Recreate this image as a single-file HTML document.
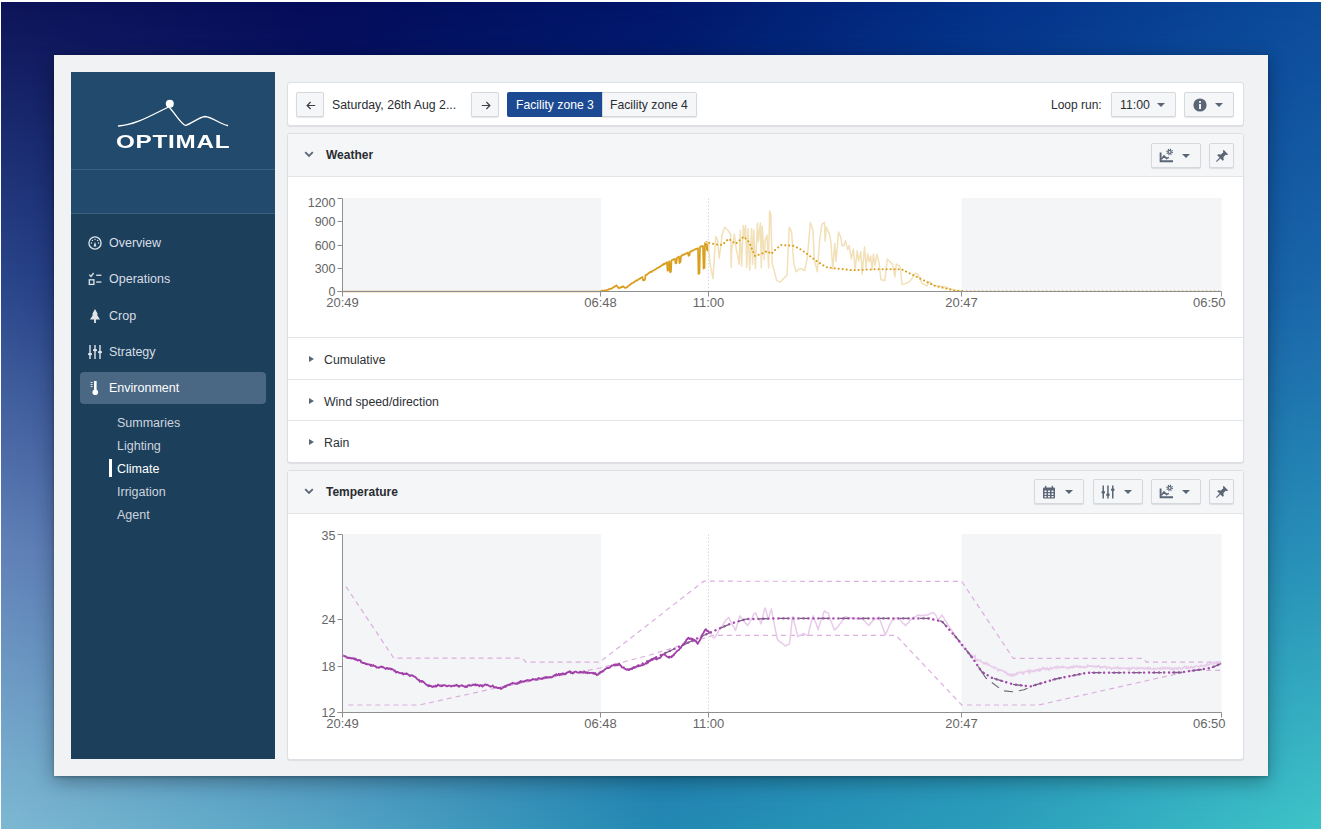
<!DOCTYPE html>
<html><head><meta charset="utf-8">
<style>
*{box-sizing:border-box;margin:0;padding:0}
html,body{width:1326px;height:834px;overflow:hidden;background:#fff;font-family:"Liberation Sans",sans-serif}
.abs{position:absolute}
#bg{position:absolute;left:1px;top:2px;width:1320px;height:827px;overflow:hidden}
#bg div{position:absolute;left:0;top:0;width:1320px;height:827px}
#bg .r0{background:linear-gradient(90deg,#0e1458 0px,#040c5a 330px,#00166a 660px,#033289 990px,#0c4c9c 1320px)}
#bg .r1{background:linear-gradient(90deg,#2a468a 0px,#0c2070 330px,#0a3080 660px,#0e4a98 990px,#1a66aa 1320px);-webkit-mask-image:linear-gradient(180deg,transparent 0px,#000 280px)}
#bg .r2{background:linear-gradient(90deg,#6282b8 0px,#3a5fa0 330px,#2060a0 660px,#2080b0 990px,#2890b8 1320px);-webkit-mask-image:linear-gradient(180deg,transparent 280px,#000 550px)}
#bg .r3{background:linear-gradient(90deg,#7db8d2 0px,#55a5c5 330px,#2289b2 660px,#2b9dbb 990px,#3fc4c8 1320px);-webkit-mask-image:linear-gradient(180deg,transparent 550px,#000 827px)}
#card{position:absolute;left:54px;top:55px;width:1214px;height:721px;background:#f1f2f4;box-shadow:0 5px 18px rgba(0,0,0,.33),0 1px 3px rgba(0,0,0,.25);}
#side{position:absolute;left:71px;top:72px;width:204px;height:687px;background:#1c3f5c}
#side .logo{position:absolute;left:0;top:0;width:204px;height:98px;background:#214a6c;border-bottom:1px solid #3d607f}
#side .blank{position:absolute;left:0;top:98px;width:204px;height:44px;background:#214a6c;border-bottom:1px solid #3d607f}
.nav{position:absolute;left:0;width:204px;height:20px;color:#d8dee4;font-size:12.5px;line-height:20px}
.nav .ic{position:absolute;left:17px;top:3px;width:14px;height:14px}
.nav .t{position:absolute;left:38px;top:0}
.sub{position:absolute;left:46px;color:#cdd5dc;font-size:12.5px;line-height:16px}
.panel{position:absolute;left:287px;width:957px;background:#fff;border:1px solid #dcdfe3;border-radius:3px;box-shadow:0 1px 1px rgba(0,0,0,.08)}
.btn{position:absolute;height:25px;border:1px solid #d5d8dc;border-radius:2px;background:#f5f6f8;box-shadow:0 1px 1px rgba(0,0,0,.1)}
.hdr{position:absolute;left:0;top:0;width:955px;height:43px;background:#f5f6f8;border-bottom:1px solid #e3e5e8}
.htitle{position:absolute;left:38px;top:14px;font-size:12px;font-weight:bold;color:#282c31}
.row{position:absolute;left:0;width:955px;height:42px;border-top:1px solid #e3e5e8}
.row .t{position:absolute;left:36px;top:15px;font-size:12.3px;color:#2d3136}
.caret{position:absolute;width:0;height:0;border-left:4px solid transparent;border-right:4px solid transparent;border-top:4.5px solid #5a6676}
.ax{font-family:"Liberation Sans",sans-serif;font-size:12px;fill:#666}
</style></head><body>
<div id="bg"><div class="r0"></div><div class="r1"></div><div class="r2"></div><div class="r3"></div></div>
<div id="card"></div>
<div id="side">
  <div class="logo">
    <svg class="abs" style="left:0;top:0" width="204" height="98" viewBox="71 72 204 98">
      <path d="M118.5 126 C135 125 150 116 167.5 107.5 M168.5 106.5 C175 113 180 123 185.5 125.5 C193 123 199 117 205 116.5 C212 117 220 124 227.5 125.5" fill="none" stroke="#fff" stroke-width="1.3" stroke-linecap="round"/>
      <circle cx="169.8" cy="103.8" r="4" fill="#fff"/>
    </svg>
    <div class="abs" style="left:45px;top:61px;width:112px;height:18px;color:#fff;font-weight:bold;font-size:19px;line-height:18px;letter-spacing:0.6px;transform:scaleX(1.275);transform-origin:0 0;white-space:nowrap">OPTIMAL</div>
  </div>
  <div class="blank"></div>
  <div class="nav" style="top:161px"><svg class="ic" viewBox="0 0 14 14"><circle cx="7" cy="7" r="6.1" fill="none" stroke="#e0e6ec" stroke-width="1.3"/><path d="M5.6 10.6 L7 5.8 L8.4 10.6 Z" fill="#e0e6ec"/><circle cx="7" cy="3.4" r=".7" fill="#e0e6ec"/><circle cx="4.4" cy="4.4" r=".7" fill="#e0e6ec"/><circle cx="9.6" cy="4.4" r=".7" fill="#e0e6ec"/><circle cx="3.4" cy="7" r=".7" fill="#e0e6ec"/><circle cx="10.6" cy="7" r=".7" fill="#e0e6ec"/></svg><span class="t">Overview</span></div>
  <div class="nav" style="top:197px"><svg class="ic" viewBox="0 0 14 14"><path d="M1.3 2.6 L3 4.4 L5.6 1" fill="none" stroke="#e0e6ec" stroke-width="1.3"/><rect x="1.3" y="7.8" width="4.6" height="4.6" fill="none" stroke="#e0e6ec" stroke-width="1.3"/><rect x="8.2" y="2.6" width="5.2" height="1.3" fill="#e0e6ec"/><rect x="8.2" y="9.4" width="5.2" height="1.3" fill="#e0e6ec"/></svg><span class="t">Operations</span></div>
  <div class="nav" style="top:234px"><svg class="ic" viewBox="0 0 14 14"><path d="M7 0 L10 5.5 L8.8 5.5 L12 10.5 L7.9 10.5 L7.9 14 L6.1 14 L6.1 10.5 L2 10.5 L5.2 5.5 L4 5.5 Z" fill="#e0e6ec"/></svg><span class="t">Crop</span></div>
  <div class="nav" style="top:270px"><svg class="ic" viewBox="0 0 14 14"><g fill="#e0e6ec"><rect x="1.3" y="0" width="1.4" height="14"/><rect x="6.3" y="0" width="1.4" height="14"/><rect x="11.3" y="0" width="1.4" height="14"/><rect x="0" y="8" width="4" height="2.2" rx="1"/><rect x="5" y="4" width="4" height="2.2" rx="1"/><rect x="10" y="6" width="4" height="2.2" rx="1"/></g></svg><span class="t">Strategy</span></div>
  <div class="abs" style="left:9px;top:300px;width:186px;height:32px;background:#4a6784;border-radius:4px"></div>
  <div class="nav" style="top:306px;color:#fff"><svg class="ic" viewBox="0 0 14 14"><g fill="#fff"><rect x="6" y="0" width="2.6" height="10"/><circle cx="7.3" cy="11.2" r="2.8"/><rect x="2.6" y="1" width="2" height=".8"/><rect x="2.6" y="3" width="2" height=".8"/><rect x="2.6" y="5" width="2" height=".8"/></g></svg><span class="t">Environment</span></div>
  <div class="sub" style="top:343px">Summaries</div>
  <div class="sub" style="top:366px">Lighting</div>
  <div class="abs" style="left:38px;top:387px;width:2.5px;height:18px;background:#fff"></div>
  <div class="sub" style="top:389px;color:#fff">Climate</div>
  <div class="sub" style="top:412px">Irrigation</div>
  <div class="sub" style="top:435px">Agent</div>
</div>
<!-- top bar -->
<div class="panel" style="top:82px;height:44px">
  <div class="btn" style="left:8px;top:9px;width:28px"><svg class="abs" style="left:8.5px;top:7.5px" width="10" height="9" viewBox="0 0 10 9"><path d="M9.2 4.5 H1.2 M4.6 1 L1.1 4.5 L4.6 8" fill="none" stroke="#3a3f45" stroke-width="1.15"/></svg></div>
  <div class="abs" style="left:44px;top:15px;font-size:12.3px;color:#2a2e33;white-space:nowrap">Saturday, 26th Aug 2...</div>
  <div class="btn" style="left:183px;top:9px;width:28px"><svg class="abs" style="left:8.5px;top:7.5px" width="10" height="9" viewBox="0 0 10 9"><path d="M0.8 4.5 H8.8 M5.4 1 L8.9 4.5 L5.4 8" fill="none" stroke="#3a3f45" stroke-width="1.15"/></svg></div>
  <div class="abs" style="left:219px;top:9px;width:96px;height:25px;background:#1b4a93;border-radius:2px 0 0 2px"></div>
  <div class="abs" style="left:228px;top:15px;font-size:12.2px;color:#fff;white-space:nowrap">Facility zone 3</div>
  <div class="btn" style="left:314px;top:9px;width:95px;border-radius:0 2px 2px 0"></div>
  <div class="abs" style="left:322px;top:15px;font-size:12.2px;color:#2a2e33;white-space:nowrap">Facility zone 4</div>
  <div class="abs" style="left:763px;top:15px;font-size:12px;color:#2a2e33;white-space:nowrap">Loop run:</div>
  <div class="btn" style="left:823px;top:9px;width:65px"><span class="abs" style="left:8px;top:5px;font-size:12.3px;color:#2a2e33">11:00</span><div class="caret" style="left:44.5px;top:10px"></div></div>
  <div class="btn" style="left:896px;top:9px;width:50px"><svg class="abs" style="left:8px;top:5px" width="14" height="14" viewBox="0 0 14 14"><circle cx="7" cy="7" r="6.6" fill="#5a6676"/><rect x="6.1" y="6" width="1.9" height="5" fill="#fff"/><circle cx="7" cy="4" r="1.1" fill="#fff"/></svg><div class="caret" style="left:30px;top:10px"></div></div>
</div>
<!-- weather -->
<div class="panel" style="top:133px;height:330px">
  <div class="hdr">
    <svg class="abs" style="left:16px;top:17px" width="10" height="7" viewBox="0 0 10 7"><path d="M1.2 1.2 L5 5 L8.8 1.2" fill="none" stroke="#5a6676" stroke-width="1.8"/></svg>
    <div class="htitle">Weather</div>
    <div class="btn" style="left:863px;top:9px;width:50px"><svg class="abs" style="left:6.5px;top:3.8px" width="15" height="15" viewBox="0 0 15 15"><g fill="none" stroke="#5a6676"><path d="M1.6 4.5 V13.2 H14" stroke-width="1.9"/><path d="M2.4 11.2 L5 8 L7.6 10.6 L9.8 9.4" stroke-width="1.6"/><circle cx="10.6" cy="3.9" r="2.5" stroke-width="1.7" stroke-dasharray="1 0.96"/><circle cx="10.6" cy="3.9" r="1.5" stroke-width="1.2"/></g></svg><div class="caret" style="left:30px;top:10px"></div></div>
    <div class="btn" style="left:921px;top:9px;width:25px"><svg class="abs" style="left:5px;top:5px" width="14" height="14" viewBox="0 0 14 14"><path d="M8.6 0.8 L13.2 5.4 L12 6 L10.6 5.8 L8.4 8.2 L8.8 10.9 L7.7 11.8 L5.4 9.4 L2 12.8 L1.2 12.8 L1.2 12 L4.6 8.6 L2.2 6.3 L3.1 5.2 L5.8 5.6 L8.2 3.4 L8 2 Z" fill="#5a6676"/></svg></div>
  </div>
  <div class="row" style="top:203px"><div class="caret" style="left:21px;top:18px;border-top:3.5px solid transparent;border-bottom:3.5px solid transparent;border-left:5px solid #5a6676;border-right:0"></div><div class="t">Cumulative</div></div>
  <div class="row" style="top:245px"><div class="caret" style="left:21px;top:18px;border-top:3.5px solid transparent;border-bottom:3.5px solid transparent;border-left:5px solid #5a6676;border-right:0"></div><div class="t">Wind speed/direction</div></div>
  <div class="row" style="top:286px"><div class="caret" style="left:21px;top:18px;border-top:3.5px solid transparent;border-bottom:3.5px solid transparent;border-left:5px solid #5a6676;border-right:0"></div><div class="t">Rain</div></div>
</div>
<!-- temperature -->
<div class="panel" style="top:470px;height:290px">
  <div class="hdr">
    <svg class="abs" style="left:16px;top:17px" width="10" height="7" viewBox="0 0 10 7"><path d="M1.2 1.2 L5 5 L8.8 1.2" fill="none" stroke="#5a6676" stroke-width="1.8"/></svg>
    <div class="htitle">Temperature</div>
    <div class="btn" style="left:746px;top:8px;width:50px"><svg class="abs" style="left:6.5px;top:5px" width="14" height="14" viewBox="0 0 14 14"><g fill="#5a6676"><rect x="1" y="2.5" width="12" height="11" rx="1"/></g><g fill="#f5f6f8"><rect x="2.5" y="5.5" width="2" height="1.6"/><rect x="6" y="5.5" width="2" height="1.6"/><rect x="9.5" y="5.5" width="2" height="1.6"/><rect x="2.5" y="8.3" width="2" height="1.6"/><rect x="6" y="8.3" width="2" height="1.6"/><rect x="9.5" y="8.3" width="2" height="1.6"/><rect x="2.5" y="11" width="2" height="1.4"/><rect x="6" y="11" width="2" height="1.4"/><rect x="9.5" y="11" width="2" height="1.4"/></g><g fill="#5a6676"><rect x="3" y="0.8" width="1.3" height="2.5"/><rect x="9.7" y="0.8" width="1.3" height="2.5"/></g></svg><div class="caret" style="left:30px;top:10px"></div></div>
    <div class="btn" style="left:805px;top:8px;width:50px"><svg class="abs" style="left:7px;top:5px" width="14" height="14" viewBox="0 0 14 14"><g fill="#5a6676"><rect x="1.5" y="0.5" width="1.5" height="13"/><rect x="6.2" y="0.5" width="1.5" height="13"/><rect x="11" y="0.5" width="1.5" height="13"/><rect x="0.5" y="6" width="3.5" height="2.4" rx="1"/><rect x="5.2" y="8.5" width="3.5" height="2.4" rx="1"/><rect x="10" y="3.5" width="3.5" height="2.4" rx="1"/></g></svg><div class="caret" style="left:30px;top:10px"></div></div>
    <div class="btn" style="left:863px;top:8px;width:50px"><svg class="abs" style="left:6.5px;top:3.8px" width="15" height="15" viewBox="0 0 15 15"><g fill="none" stroke="#5a6676"><path d="M1.6 4.5 V13.2 H14" stroke-width="1.9"/><path d="M2.4 11.2 L5 8 L7.6 10.6 L9.8 9.4" stroke-width="1.6"/><circle cx="10.6" cy="3.9" r="2.5" stroke-width="1.7" stroke-dasharray="1 0.96"/><circle cx="10.6" cy="3.9" r="1.5" stroke-width="1.2"/></g></svg><div class="caret" style="left:30px;top:10px"></div></div>
    <div class="btn" style="left:921px;top:8px;width:25px"><svg class="abs" style="left:5px;top:5px" width="14" height="14" viewBox="0 0 14 14"><path d="M8.6 0.8 L13.2 5.4 L12 6 L10.6 5.8 L8.4 8.2 L8.8 10.9 L7.7 11.8 L5.4 9.4 L2 12.8 L1.2 12.8 L1.2 12 L4.6 8.6 L2.2 6.3 L3.1 5.2 L5.8 5.6 L8.2 3.4 L8 2 Z" fill="#5a6676"/></svg></div>
  </div>
</div>
<!--CHARTS--><svg id="charts" class="abs" style="left:0;top:0" width="1326" height="834" viewBox="0 0 1326 834"><rect x="343.0" y="198.0" width="258.0" height="93.0" fill="#f4f5f7"/><rect x="961.5" y="198.0" width="260.0" height="93.0" fill="#f4f5f7"/><line x1="708.5" y1="198.5" x2="708.5" y2="291.5" stroke="#c9ced6" stroke-width="1" stroke-dasharray="1.2 2.2"/><line x1="342.5" y1="291.5" x2="600.5" y2="291.5" stroke="#cda457" stroke-width="1.3"/><path d="M600.5 291.0 L601.0 291.0 L601.5 290.8 L602.0 290.6 L602.5 290.7 L603.0 290.5 L603.5 290.7 L604.0 291.0 L604.5 290.5 L605.0 290.4 L605.5 290.6 L606.0 290.4 L606.5 290.2 L607.0 289.8 L607.5 289.9 L608.0 290.0 L608.5 289.3 L609.0 289.4 L609.5 288.9 L610.0 288.9 L610.5 288.7 L611.0 288.9 L611.5 288.4 L612.0 288.4 L612.5 288.1 L613.0 287.7 L613.5 286.8 L614.0 287.0 L614.5 286.8 L615.0 286.6 L615.5 285.8 L616.0 285.8 L616.5 285.4 L617.0 285.9 L617.5 286.9 L618.0 287.0 L618.5 287.7 L619.0 288.4 L619.5 287.8 L620.0 287.7 L620.5 287.6 L621.0 287.4 L621.5 286.8 L622.0 286.9 L622.5 287.1 L623.0 286.1 L623.5 287.0 L624.0 287.0 L624.5 287.1 L625.0 288.0 L625.5 287.9 L626.0 287.7 L626.5 287.6 L627.0 287.3 L627.5 286.6 L628.0 286.4 L628.5 285.8 L629.0 285.5 L629.5 285.3 L630.0 284.3 L630.5 284.3 L631.0 283.8 L631.5 283.6 L632.0 283.0 L632.5 282.9 L633.0 282.7 L633.5 282.6 L634.0 282.4 L634.5 281.5 L635.0 281.3 L635.5 281.4 L636.0 280.4 L636.5 280.5 L637.0 280.3 L637.5 280.3 L638.0 279.9 L638.5 279.3 L639.0 279.0 L639.5 278.7 L640.0 278.9 L640.5 278.1 L641.0 277.8 L641.5 277.7 L642.0 277.3 L642.5 277.0 L643.0 280.4 L643.5 280.4 L644.0 280.0 L644.5 280.1 L645.0 279.7 L645.5 275.2 L646.0 275.1 L646.5 274.5 L647.0 274.6 L647.5 274.0 L648.0 273.9 L648.5 273.1 L649.0 273.2 L649.5 272.4 L650.0 272.0 L650.5 272.2 L651.0 271.7 L651.5 271.7 L652.0 271.9 L652.5 270.9 L653.0 270.6 L653.5 270.5 L654.0 270.3 L654.5 269.8 L655.0 269.5 L655.5 269.5 L656.0 269.1 L656.5 268.4 L657.0 268.4 L657.5 268.1 L658.0 267.6 L658.5 267.6 L659.0 267.0 L659.5 267.2 L660.0 266.7 L660.5 266.4 L661.0 265.9 L661.5 265.7 L662.0 265.0 L662.5 264.9 L663.0 265.0 L663.5 264.0 L664.0 264.5 L664.5 263.5 L665.0 263.9 L665.5 263.2 L666.0 263.3 L666.5 262.8 L667.0 262.1 L667.5 270.6 L668.0 270.4 L668.5 269.8 L669.0 261.5 L669.5 261.3 L670.0 271.9 L670.5 272.1 L671.0 271.5 L671.5 260.4 L672.0 260.0 L672.5 259.8 L673.0 259.4 L673.5 259.8 L674.0 259.2 L674.5 259.3 L675.0 258.8 L675.5 263.4 L676.0 263.2 L676.5 262.9 L677.0 257.9 L677.5 257.5 L678.0 257.3 L678.5 256.8 L679.0 256.7 L679.5 263.1 L680.0 262.3 L680.5 262.0 L681.0 256.1 L681.5 256.1 L682.0 255.2 L682.5 255.3 L683.0 254.9 L683.5 254.4 L684.0 254.8 L684.5 254.4 L685.0 254.2 L685.5 253.7 L686.0 253.8 L686.5 253.3 L687.0 253.2 L687.5 252.7 L688.0 252.4 L688.5 255.9 L689.0 255.2 L689.5 255.1 L690.0 251.8 L690.5 251.5 L691.0 251.2 L691.5 251.3 L692.0 250.8 L692.5 250.6 L693.0 250.4 L693.5 250.5 L694.0 250.1 L694.5 249.8 L695.0 249.4 L695.5 248.9 L696.0 249.2 L696.5 249.0 L697.0 248.5 L697.5 248.4 L698.0 248.2 L698.5 274.0 L699.0 273.7 L699.5 273.1 L700.0 247.4 L700.5 246.4 L701.0 246.7 L701.5 246.4 L702.0 246.2 L702.5 246.2 L703.0 245.9 L703.5 268.6 L704.0 267.9 L704.5 268.0 L705.0 242.9 L705.5 242.6 L706.0 242.2 L706.5 241.8 L707.0 249.8 L707.5 250.6 L708.0 250.7 L708.5 242.8" fill="none" stroke="#d89e1c" stroke-width="1.7" stroke-linejoin="round"/><path d="M705.0 242.1 L708.4 243.3 L710.1 263.8 L713.0 278.6 L715.8 236.4 L717.5 239.9 L719.2 258.1 L720.9 245.6 L722.1 234.2 L724.9 227.3 L727.8 230.2 L730.6 234.2 L731.2 267.2 L731.8 248.0 L733.4 241.9 L734.3 234.0 L736.3 249.2 L738.1 258.3 L739.1 264.4 L740.2 230.6 L741.6 266.1 L743.3 225.6 L744.3 237.2 L745.6 225.4 L746.7 267.7 L748.1 228.7 L749.7 270.3 L751.6 228.4 L752.6 264.3 L753.8 230.0 L755.4 268.7 L757.5 223.1 L758.4 241.6 L760.4 223.1 L761.3 267.8 L762.3 226.4 L764.2 259.6 L765.2 240.4 L767.0 235.1 L768.6 268.0 L769.6 211.0 L770.8 214.0 L771.5 240.0 L772.2 263.8 L773.3 267.2 L776.8 280.9 L780.2 282.0 L784.7 277.4 L787.0 275.2 L789.3 227.3 L791.6 231.9 L793.8 263.8 L796.1 271.8 L800.0 268.3 L804.6 270.5 L807.2 259.0 L810.4 222.4 L813.0 230.8 L814.2 259.0 L817.4 271.8 L819.4 242.3 L821.9 224.4 L824.5 222.4 L825.1 241.0 L826.4 226.9 L829.6 234.6 L830.9 242.3 L832.8 269.2 L834.7 243.6 L836.0 261.5 L838.6 232.0 L841.2 238.5 L842.0 245.8 L843.7 246.1 L845.5 240.8 L847.6 249.7 L849.3 245.5 L851.3 258.9 L853.4 249.1 L855.1 269.6 L857.2 250.8 L858.6 261.2 L860.8 251.7 L862.2 274.3 L864.5 246.7 L866.0 267.6 L867.7 253.8 L869.2 261.8 L870.7 256.0 L872.1 269.9 L873.4 254.1 L875.0 265.7 L876.8 254.3 L879.1 262.9 L880.9 279.5 L884.7 280.8 L887.3 259.0 L892.4 264.1 L895.0 276.9 L896.3 264.1 L900.1 266.7 L902.1 284.6 L906.5 283.3 L910.4 280.8 L915.5 273.1 L918.1 274.4 L921.9 283.3 L927.1 285.9 L929.0 281.4 L932.2 284.6 L936.0 285.9 L943.7 286.5 L948.8 288.5 L956.5 290.4 L961.7 291.0" fill="none" stroke="#f2e1b8" stroke-width="1.5" stroke-linejoin="round"/><path d="M962.7 291 L1221.5 291" fill="none" stroke="#d4a84a" stroke-width="1.4" stroke-dasharray="0.1 3.9" stroke-linecap="round"/><path d="M709.2 242.8 L716.0 244.5 L722.4 244.9 L728.5 238.8 L735.6 243.8 L743.8 236.7 L749.0 242.0 L755.0 256.0 L761.0 254.0 L767.2 251.0 L771.3 254.0 L776.0 249.0 L781.4 244.9 L793.7 245.9 L800.0 249.0 L805.9 253.0 L815.0 260.0 L826.2 267.2 L852.7 270.3 L873.0 269.3 L901.6 269.3 L915.8 276.4 L934.2 285.6 L954.5 290.6 L962.7 291.0" fill="none" stroke="#d89e1c" stroke-width="2" stroke-dasharray="0.1 3.9" stroke-linecap="round"/><path d="M337.5 198.5 H342.5 V291.5 H337.5" fill="none" stroke="#8f8f8f" stroke-width="1"/><line x1="337.5" y1="221.5" x2="342.5" y2="221.5" stroke="#8f8f8f" stroke-width="1"/><line x1="337.5" y1="245.5" x2="342.5" y2="245.5" stroke="#8f8f8f" stroke-width="1"/><line x1="337.5" y1="268.5" x2="342.5" y2="268.5" stroke="#8f8f8f" stroke-width="1"/><line x1="337.5" y1="291.5" x2="342.5" y2="291.5" stroke="#8f8f8f" stroke-width="1"/><text x="335.5" y="226.1" text-anchor="end" class="ax" style="font-size:12.5px">900</text><text x="335.5" y="250.1" text-anchor="end" class="ax" style="font-size:12.5px">600</text><text x="335.5" y="273.1" text-anchor="end" class="ax" style="font-size:12.5px">300</text><text x="335.5" y="296.1" text-anchor="end" class="ax" style="font-size:12.5px">0</text><text x="335.5" y="206.6" text-anchor="end" class="ax" style="font-size:12.5px">1200</text><path d="M342.5 296.5 V291.5 H1221.5 V296.5" fill="none" stroke="#8f8f8f" stroke-width="1"/><line x1="600.5" y1="291.5" x2="600.5" y2="296.5" stroke="#8f8f8f" stroke-width="1"/><line x1="708.5" y1="291.5" x2="708.5" y2="296.5" stroke="#8f8f8f" stroke-width="1"/><line x1="961.5" y1="291.5" x2="961.5" y2="296.5" stroke="#8f8f8f" stroke-width="1"/><text x="342.5" y="307.1" text-anchor="middle" class="ax" style="font-size:13px">20:49</text><text x="600.5" y="307.1" text-anchor="middle" class="ax" style="font-size:13px">06:48</text><text x="708.5" y="307.1" text-anchor="middle" class="ax" style="font-size:13px">11:00</text><text x="961.5" y="307.1" text-anchor="middle" class="ax" style="font-size:13px">20:47</text><text x="1225.5" y="307.1" text-anchor="end" class="ax" style="font-size:13px">06:50</text><rect x="343.0" y="534.0" width="258.0" height="178.0" fill="#f4f5f7"/><rect x="961.5" y="534.0" width="260.0" height="178.0" fill="#f4f5f7"/><line x1="708.5" y1="534.5" x2="708.5" y2="712.5" stroke="#c9ced6" stroke-width="1" stroke-dasharray="1.2 2.2"/><path d="M345.9 586.5 L393.8 658.2 L522.6 658.2 L525.8 662.2 L599.7 662.2 L703.8 581.2 L961.7 581.4 L1013.3 658.4 L1143.2 658.4 L1146.4 662.2 L1221.7 662.2" fill="none" stroke="#dcaedf" stroke-width="1.2" stroke-dasharray="5 4"/><path d="M348.4 705.0 L419.2 705.0 L500.5 687.1 L600.0 668.0 L650.0 655.0 L713.0 635.4 L896.0 635.4 L961.7 705.0 L1038.7 705.0 L1193.0 670.3 L1221.7 670.3" fill="none" stroke="#dcaedf" stroke-width="1.2" stroke-dasharray="5 4"/><path d="M709.0 632.3 L709.7 632.2 L710.4 633.1 L711.1 633.8 L711.8 635.3 L712.5 636.8 L713.2 637.6 L713.9 637.9 L714.6 637.9 L715.3 636.8 L716.0 635.8 L716.7 634.3 L717.4 633.2 L718.1 631.9 L718.8 630.4 L719.5 629.2 L720.2 628.0 L720.9 626.9 L721.6 626.3 L722.3 625.9 L723.0 624.5 L723.7 623.5 L724.4 622.0 L725.1 621.8 L725.8 620.1 L726.5 619.4 L727.2 619.3 L727.9 618.4 L728.6 617.5 L729.3 618.3 L730.0 620.1 L730.7 621.3 L731.4 623.0 L732.1 624.9 L732.8 625.5 L733.5 626.4 L734.2 627.6 L734.9 629.3 L735.6 630.5 L736.3 627.6 L737.0 625.5 L737.7 622.4 L738.4 620.6 L739.1 618.0 L739.8 615.9 L740.5 616.4 L741.2 617.8 L741.9 618.6 L742.6 619.6 L743.3 620.6 L744.0 621.2 L744.7 621.9 L745.4 623.3 L746.1 623.7 L746.8 624.5 L747.5 625.5 L748.2 624.3 L748.9 623.4 L749.6 622.4 L750.3 621.2 L751.0 619.6 L751.7 618.8 L752.4 617.2 L753.1 615.4 L753.8 614.2 L754.5 613.5 L755.2 612.8 L755.9 613.3 L756.6 615.7 L757.3 616.7 L758.0 618.3 L758.7 619.0 L759.4 620.3 L760.1 621.3 L760.8 623.8 L761.5 621.8 L762.2 619.7 L762.9 616.1 L763.6 613.6 L764.3 610.2 L765.0 607.9 L765.7 609.6 L766.4 611.6 L767.1 615.3 L767.8 617.9 L768.5 618.0 L769.2 615.9 L769.9 613.6 L770.6 611.5 L771.3 609.0 L772.0 612.4 L772.7 616.1 L773.4 619.4 L774.1 622.8 L774.8 626.7 L775.5 630.6 L776.2 633.2 L776.9 637.3 L777.6 639.7 L778.3 640.1 L779.0 641.3 L779.7 641.4 L780.4 642.6 L781.1 642.3 L781.8 643.2 L782.5 643.6 L783.2 643.9 L783.9 644.9 L784.6 645.2 L785.3 646.0 L786.0 645.6 L786.7 644.9 L787.4 644.9 L788.1 644.6 L788.8 644.5 L789.5 643.5 L790.2 638.1 L790.9 630.9 L791.6 625.1 L792.3 617.9 L793.0 616.4 L793.7 620.0 L794.4 623.3 L795.1 625.3 L795.8 628.4 L796.5 631.4 L797.2 634.2 L797.9 636.7 L798.6 636.0 L799.3 635.7 L800.0 635.8 L800.7 635.0 L801.4 635.0 L802.1 634.2 L802.8 633.8 L803.5 633.2 L804.2 634.5 L804.9 634.1 L805.6 634.7 L806.3 634.9 L807.0 635.3 L807.7 635.6 L808.4 634.4 L809.1 630.6 L809.8 627.6 L810.5 625.0 L811.2 622.1 L811.9 620.0 L812.6 617.3 L813.3 615.9 L814.0 617.7 L814.7 620.0 L815.4 622.6 L816.1 623.0 L816.8 626.2 L817.5 627.6 L818.2 629.7 L818.9 626.8 L819.6 625.0 L820.3 622.5 L821.0 620.6 L821.7 619.3 L822.4 617.0 L823.1 614.5 L823.8 612.2 L824.5 610.8 L825.2 611.7 L825.9 612.1 L826.6 612.4 L827.3 612.8 L828.0 612.8 L828.7 614.4 L829.4 616.4 L830.1 618.9 L830.8 621.0 L831.5 622.3 L832.2 624.1 L832.9 626.3 L833.6 628.1 L834.3 630.1 L835.0 629.9 L835.7 628.7 L836.4 628.5 L837.1 627.4 L837.8 626.7 L838.5 625.8 L839.2 624.8 L839.9 623.9 L840.6 623.3 L841.3 622.1 L842.0 621.4 L842.7 620.2 L843.4 618.7 L844.1 618.2 L844.8 616.9 L845.5 617.3 L846.2 617.5 L846.9 616.9 L847.6 617.7 L848.3 617.8 L849.0 617.8 L849.7 617.8 L850.4 617.8 L851.1 617.7 L851.8 618.0 L852.5 618.0 L853.2 618.3 L853.9 617.9 L854.6 618.5 L855.3 618.5 L856.0 618.5 L856.7 618.5 L857.4 618.9 L858.1 618.2 L858.8 619.1 L859.5 619.1 L860.2 619.2 L860.9 619.3 L861.6 619.0 L862.3 619.2 L863.0 619.7 L863.7 620.4 L864.4 621.0 L865.1 621.1 L865.8 622.5 L866.5 623.4 L867.2 624.1 L867.9 624.5 L868.6 624.6 L869.3 625.5 L870.0 624.3 L870.7 622.6 L871.4 622.8 L872.1 621.4 L872.8 620.6 L873.5 620.0 L874.2 619.9 L874.9 618.5 L875.6 618.4 L876.3 618.7 L877.0 618.5 L877.7 617.7 L878.4 617.5 L879.1 617.0 L879.8 618.9 L880.5 621.2 L881.2 623.2 L881.9 625.1 L882.6 627.4 L883.3 628.8 L884.0 631.0 L884.7 633.3 L885.4 634.7 L886.1 633.3 L886.8 631.6 L887.5 629.8 L888.2 628.6 L888.9 626.6 L889.6 624.8 L890.3 624.1 L891.0 622.3 L891.7 621.4 L892.4 620.2 L893.1 620.2 L893.8 619.7 L894.5 619.1 L895.2 618.2 L895.9 618.4 L896.6 618.3 L897.3 617.7 L898.0 617.7 L898.7 618.6 L899.4 619.5 L900.1 619.0 L900.8 620.6 L901.5 621.5 L902.2 622.3 L902.9 623.3 L903.6 623.8 L904.3 624.2 L905.0 624.9 L905.7 625.8 L906.4 624.5 L907.1 623.9 L907.8 623.4 L908.5 622.9 L909.2 621.4 L909.9 620.6 L910.6 619.9 L911.3 619.5 L912.0 618.3 L912.7 618.5 L913.4 617.3 L914.1 617.2 L914.8 616.9 L915.5 616.9 L916.2 616.6 L916.9 615.4 L917.6 615.2 L918.3 615.5 L919.0 615.2 L919.7 614.9 L920.4 615.8 L921.1 615.6 L921.8 615.6 L922.5 615.2 L923.2 615.8 L923.9 615.3 L924.6 615.8 L925.3 615.1 L926.0 615.1 L926.7 615.2 L927.4 614.6 L928.1 614.8 L928.8 614.4 L929.5 613.8 L930.2 613.8 L930.9 613.4 L931.6 613.6 L932.3 612.8 L933.0 612.6 L933.7 612.9 L934.4 613.4 L935.1 614.6 L935.8 615.2 L936.5 616.5 L937.2 618.2 L937.9 618.8 L938.6 618.7 L939.3 618.4 L940.0 617.8 L940.7 616.7 L941.4 615.7 L942.1 615.1 L942.8 616.5 L943.5 617.1 L944.2 618.5 L944.9 619.8 L945.6 621.1 L946.3 621.9 L947.0 623.4 L947.7 624.0 L948.4 625.4 L949.1 626.2 L949.8 628.0 L950.5 628.6 L951.2 629.4 L951.9 630.6 L952.6 631.7 L953.3 633.1 L954.0 633.3 L954.7 634.6 L955.4 635.9 L956.1 637.9 L956.8 638.4 L957.5 639.1 L958.2 640.4 L958.9 642.0 L959.6 642.2 L960.3 643.2 L961.0 644.7 L961.7 645.2 L962.4 646.0 L963.1 646.3 L963.8 647.9 L964.5 648.6 L965.2 649.0 L965.9 649.8 L966.6 649.6 L967.3 651.3 L968.0 651.8 L968.7 652.7 L969.4 653.6 L970.1 654.0 L970.8 654.1 L971.5 655.3 L972.2 655.5 L972.9 656.2 L973.6 656.7 L974.3 657.4 L975.0 655.3 L975.7 660.9 L976.4 660.4 L977.1 659.4 L977.8 661.0 L978.5 660.3 L979.2 660.2 L979.9 659.8 L980.6 660.5 L981.3 661.9 L982.0 662.2 L982.7 662.5 L983.4 662.8 L984.1 664.1 L984.8 662.9 L985.5 663.7 L986.2 662.4 L986.9 663.3 L987.6 665.2 L988.3 663.9 L989.0 664.9 L989.7 665.4 L990.4 665.6 L991.1 666.5 L991.8 666.5 L992.5 666.6 L993.2 667.3 L993.9 668.2 L994.6 667.2 L995.3 667.2 L996.0 668.3 L996.7 668.5 L997.4 669.4 L998.1 671.0 L998.8 669.6 L999.5 669.6 L1000.2 670.7 L1000.9 669.7 L1001.6 669.9 L1002.3 670.5 L1003.0 671.3 L1003.7 670.9 L1004.4 672.4 L1005.1 672.3 L1005.8 672.5 L1006.5 672.0 L1007.2 674.8 L1007.9 673.6 L1008.6 675.0 L1009.3 674.4 L1010.0 675.9 L1010.7 673.8 L1011.4 675.1 L1012.1 676.4 L1012.8 673.9 L1013.5 675.4 L1014.2 675.9 L1014.9 673.8 L1015.6 674.7 L1016.3 674.6 L1017.0 672.9 L1017.7 674.0 L1018.4 672.4 L1019.1 672.0 L1019.8 672.5 L1020.5 672.3 L1021.2 672.6 L1021.9 673.0 L1022.6 671.5 L1023.3 674.3 L1024.0 672.9 L1024.7 672.0 L1025.4 671.3 L1026.1 671.3 L1026.8 671.6 L1027.5 671.9 L1028.2 670.0 L1028.9 671.1 L1029.6 673.5 L1030.3 669.7 L1031.0 671.8 L1031.7 671.2 L1032.4 670.9 L1033.1 671.7 L1033.8 670.2 L1034.5 670.8 L1035.2 671.6 L1035.9 670.3 L1036.6 669.4 L1037.3 670.1 L1038.0 669.6 L1038.7 671.1 L1039.4 668.7 L1040.1 670.9 L1040.8 668.7 L1041.5 669.6 L1042.2 668.7 L1042.9 667.3 L1043.6 669.2 L1044.3 668.1 L1045.0 668.7 L1045.7 669.8 L1046.4 668.2 L1047.1 667.7 L1047.8 669.6 L1048.5 668.9 L1049.2 670.4 L1049.9 668.2 L1050.6 667.4 L1051.3 667.8 L1052.0 669.2 L1052.7 668.2 L1053.4 667.6 L1054.1 667.7 L1054.8 667.2 L1055.5 666.8 L1056.2 668.7 L1056.9 666.7 L1057.6 666.1 L1058.3 666.9 L1059.0 668.0 L1059.7 667.8 L1060.4 666.7 L1061.1 666.7 L1061.8 667.6 L1062.5 666.3 L1063.2 666.3 L1063.9 667.5 L1064.6 667.1 L1065.3 667.3 L1066.0 667.7 L1066.7 667.4 L1067.4 667.7 L1068.1 668.8 L1068.8 668.0 L1069.5 666.7 L1070.2 668.0 L1070.9 667.2 L1071.6 666.4 L1072.3 668.0 L1073.0 667.2 L1073.7 665.4 L1074.4 666.9 L1075.1 666.9 L1075.8 667.1 L1076.5 665.6 L1077.2 666.1 L1077.9 666.8 L1078.6 667.0 L1079.3 666.1 L1080.0 667.8 L1080.7 666.1 L1081.4 667.0 L1082.1 667.4 L1082.8 666.6 L1083.5 667.1 L1084.2 667.8 L1084.9 666.5 L1085.6 666.6 L1086.3 667.5 L1087.0 667.1 L1087.7 665.0 L1088.4 666.2 L1089.1 666.2 L1089.8 665.7 L1090.5 666.1 L1091.2 665.9 L1091.9 666.8 L1092.6 665.9 L1093.3 666.2 L1094.0 666.8 L1094.7 666.3 L1095.4 666.2 L1096.1 667.5 L1096.8 666.9 L1097.5 665.6 L1098.2 666.5 L1098.9 665.5 L1099.6 667.2 L1100.3 668.1 L1101.0 666.8 L1101.7 666.5 L1102.4 667.9 L1103.1 666.6 L1103.8 667.1 L1104.5 666.8 L1105.2 666.1 L1105.9 667.2 L1106.6 668.7 L1107.3 667.5 L1108.0 667.1 L1108.7 666.8 L1109.4 667.5 L1110.1 668.3 L1110.8 667.8 L1111.5 669.3 L1112.2 667.7 L1112.9 668.1 L1113.6 668.4 L1114.3 668.6 L1115.0 667.1 L1115.7 668.0 L1116.4 668.5 L1117.1 667.9 L1117.8 666.5 L1118.5 668.9 L1119.2 668.6 L1119.9 667.7 L1120.6 668.7 L1121.3 668.1 L1122.0 668.4 L1122.7 668.1 L1123.4 667.8 L1124.1 668.2 L1124.8 668.5 L1125.5 668.6 L1126.2 668.5 L1126.9 667.8 L1127.6 668.6 L1128.3 669.6 L1129.0 667.5 L1129.7 669.7 L1130.4 669.1 L1131.1 668.0 L1131.8 668.9 L1132.5 667.5 L1133.2 667.3 L1133.9 667.4 L1134.6 668.1 L1135.3 668.7 L1136.0 668.2 L1136.7 668.9 L1137.4 667.4 L1138.1 669.1 L1138.8 668.3 L1139.5 667.7 L1140.2 668.5 L1140.9 667.6 L1141.6 668.2 L1142.3 668.4 L1143.0 667.8 L1143.7 668.6 L1144.4 669.1 L1145.1 668.1 L1145.8 668.2 L1146.5 667.8 L1147.2 669.0 L1147.9 667.3 L1148.6 669.3 L1149.3 668.5 L1150.0 667.2 L1150.7 669.0 L1151.4 668.9 L1152.1 669.1 L1152.8 669.2 L1153.5 668.3 L1154.2 669.5 L1154.9 669.1 L1155.6 668.1 L1156.3 669.0 L1157.0 668.6 L1157.7 668.7 L1158.4 668.2 L1159.1 668.2 L1159.8 669.4 L1160.5 667.6 L1161.2 668.9 L1161.9 668.9 L1162.6 669.1 L1163.3 666.8 L1164.0 668.3 L1164.7 668.9 L1165.4 668.0 L1166.1 668.2 L1166.8 667.2 L1167.5 668.8 L1168.2 668.2 L1168.9 668.8 L1169.6 667.3 L1170.3 669.1 L1171.0 668.2 L1171.7 669.8 L1172.4 668.0 L1173.1 668.7 L1173.8 670.4 L1174.5 667.7 L1175.2 667.9 L1175.9 668.5 L1176.6 667.8 L1177.3 669.4 L1178.0 669.6 L1178.7 667.4 L1179.4 667.2 L1180.1 668.5 L1180.8 669.3 L1181.5 668.6 L1182.2 668.8 L1182.9 667.5 L1183.6 668.0 L1184.3 666.5 L1185.0 666.3 L1185.7 668.1 L1186.4 666.5 L1187.1 668.9 L1187.8 668.2 L1188.5 666.6 L1189.2 668.2 L1189.9 668.1 L1190.6 667.6 L1191.3 666.2 L1192.0 667.3 L1192.7 668.1 L1193.4 667.1 L1194.1 666.3 L1194.8 667.4 L1195.5 666.4 L1196.2 666.0 L1196.9 666.1 L1197.6 666.1 L1198.3 666.5 L1199.0 666.9 L1199.7 666.2 L1200.4 666.4 L1201.1 665.1 L1201.8 666.0 L1202.5 666.1 L1203.2 665.9 L1203.9 665.8 L1204.6 665.1 L1205.3 665.6 L1206.0 666.4 L1206.7 664.1 L1207.4 663.3 L1208.1 665.6 L1208.8 664.8 L1209.5 664.3 L1210.2 663.4 L1210.9 663.9 L1211.6 663.9 L1212.3 663.9 L1213.0 664.0 L1213.7 661.8 L1214.4 664.1 L1215.1 662.1 L1215.8 663.1 L1216.5 663.7 L1217.2 663.4 L1217.9 662.8 L1218.6 664.8 L1219.3 661.9 L1220.0 663.3 L1220.7 663.2 L1221.4 663.2" fill="none" stroke="#e8cbea" stroke-width="1.5" stroke-linejoin="round"/><path d="M629.0 669.8 L668.0 651.8 L706.9 634.0 L730.3 623.8 L745.9 619.1 L780.0 618.4 L928.4 618.4 L942.0 621.4 L958.4 640.0 L973.2 659.0 L981.7 671.7 L992.2 678.0 L1013.3 684.4 L1030.2 686.5 L1055.6 679.0 L1087.2 672.7 L1180.0 672.5 L1210.8 668.0 L1221.5 663.5" fill="none" stroke="#6a6e74" stroke-width="1.3" stroke-dasharray="10.1 10"/><path d="M981.7 671.7 L985.9 678.0 L1002.8 690.7 L1013.3 691.8 L1023.9 689.7 L1034.5 685.4" fill="none" stroke="#666a70" stroke-width="1.1" stroke-dasharray="9 6"/><path d="M629.0 669.8 L668.0 651.8 L706.9 634.0 L730.3 623.8 L745.9 619.1 L780.0 618.4 L928.4 618.4 L942.0 621.4 L958.4 640.0 L973.2 659.0 L981.7 671.7 L992.2 678.0 L1013.3 684.4 L1030.2 686.5 L1055.6 679.0 L1087.2 672.7 L1180.0 672.5 L1210.8 668.0 L1221.5 663.5" fill="none" stroke="#a448ae" stroke-width="2.4" stroke-dasharray="0.1 4.9" stroke-linecap="round"/><path d="M343.2 655.5 L343.7 655.6 L344.2 656.2 L344.7 656.1 L345.2 656.6 L345.7 656.2 L346.2 657.0 L346.7 657.1 L347.2 658.0 L347.7 657.8 L348.2 657.5 L348.7 657.9 L349.2 658.2 L349.7 657.8 L350.2 658.3 L350.7 658.0 L351.2 658.1 L351.7 658.6 L352.2 658.1 L352.7 658.3 L353.2 658.2 L353.7 658.9 L354.2 659.0 L354.7 658.5 L355.2 659.5 L355.7 658.8 L356.2 659.7 L356.7 660.0 L357.2 660.0 L357.7 660.6 L358.2 659.8 L358.7 659.8 L359.2 660.4 L359.7 660.1 L360.2 660.7 L360.7 660.5 L361.2 662.4 L361.7 662.4 L362.2 662.5 L362.7 663.0 L363.2 663.2 L363.7 662.8 L364.2 663.0 L364.7 663.0 L365.2 663.6 L365.7 664.2 L366.2 664.2 L366.7 663.7 L367.2 664.4 L367.7 664.2 L368.2 664.2 L368.7 664.5 L369.2 664.7 L369.7 664.4 L370.2 664.8 L370.7 665.8 L371.2 664.7 L371.7 665.9 L372.2 665.8 L372.7 665.7 L373.2 665.0 L373.7 665.4 L374.2 666.2 L374.7 666.2 L375.2 666.2 L375.7 666.2 L376.2 667.3 L376.7 667.7 L377.2 667.5 L377.7 667.2 L378.2 667.6 L378.7 667.8 L379.2 667.8 L379.7 667.1 L380.2 667.1 L380.7 666.8 L381.2 666.5 L381.7 667.0 L382.2 667.1 L382.7 666.8 L383.2 667.4 L383.7 667.4 L384.2 668.0 L384.7 668.3 L385.2 668.3 L385.7 669.0 L386.2 668.1 L386.7 668.0 L387.2 668.3 L387.7 668.1 L388.2 669.0 L388.7 668.5 L389.2 668.2 L389.7 668.9 L390.2 668.7 L390.7 668.5 L391.2 669.5 L391.7 669.0 L392.2 669.2 L392.7 669.4 L393.2 669.8 L393.7 670.1 L394.2 670.9 L394.7 670.5 L395.2 670.7 L395.7 672.1 L396.2 672.5 L396.7 672.0 L397.2 671.9 L397.7 672.0 L398.2 672.2 L398.7 672.7 L399.2 672.9 L399.7 672.9 L400.2 673.1 L400.7 673.2 L401.2 673.3 L401.7 673.5 L402.2 672.7 L402.7 673.7 L403.2 674.5 L403.7 673.9 L404.2 673.7 L404.7 673.9 L405.2 674.2 L405.7 674.0 L406.2 673.2 L406.7 674.0 L407.2 673.7 L407.7 674.1 L408.2 674.7 L408.7 674.9 L409.2 675.1 L409.7 676.0 L410.2 675.5 L410.7 675.9 L411.2 675.2 L411.7 675.1 L412.2 675.3 L412.7 675.8 L413.2 675.9 L413.7 676.0 L414.2 676.7 L414.7 676.8 L415.2 676.9 L415.7 677.2 L416.2 678.1 L416.7 678.3 L417.2 679.1 L417.7 679.7 L418.2 679.7 L418.7 680.1 L419.2 680.0 L419.7 681.8 L420.2 681.4 L420.7 680.9 L421.2 681.0 L421.7 681.9 L422.2 680.9 L422.7 681.3 L423.2 681.9 L423.7 682.1 L424.2 682.5 L424.7 683.3 L425.2 683.3 L425.7 684.2 L426.2 684.7 L426.7 685.0 L427.2 685.3 L427.7 684.9 L428.2 686.3 L428.7 685.6 L429.2 686.1 L429.7 685.3 L430.2 686.0 L430.7 685.9 L431.2 685.9 L431.7 686.6 L432.2 687.0 L432.7 686.4 L433.2 686.8 L433.7 686.2 L434.2 686.1 L434.7 686.4 L435.2 686.6 L435.7 685.5 L436.2 686.6 L436.7 686.3 L437.2 685.7 L437.7 684.8 L438.2 684.5 L438.7 685.1 L439.2 685.7 L439.7 685.3 L440.2 685.4 L440.7 685.7 L441.2 686.3 L441.7 685.4 L442.2 685.2 L442.7 686.0 L443.2 685.3 L443.7 685.2 L444.2 685.3 L444.7 685.2 L445.2 685.5 L445.7 685.4 L446.2 686.0 L446.7 686.4 L447.2 686.4 L447.7 686.0 L448.2 685.7 L448.7 685.8 L449.2 685.5 L449.7 685.8 L450.2 685.9 L450.7 686.2 L451.2 686.5 L451.7 686.0 L452.2 685.8 L452.7 685.7 L453.2 685.7 L453.7 685.9 L454.2 686.0 L454.7 685.5 L455.2 685.2 L455.7 685.7 L456.2 685.6 L456.7 684.7 L457.2 685.5 L457.7 685.8 L458.2 686.2 L458.7 685.6 L459.2 686.8 L459.7 686.1 L460.2 685.7 L460.7 685.7 L461.2 685.6 L461.7 685.3 L462.2 685.2 L462.7 686.0 L463.2 685.8 L463.7 686.0 L464.2 686.5 L464.7 686.7 L465.2 687.2 L465.7 686.2 L466.2 687.1 L466.7 686.5 L467.2 686.7 L467.7 685.4 L468.2 685.5 L468.7 685.4 L469.2 684.9 L469.7 685.3 L470.2 685.8 L470.7 685.5 L471.2 685.4 L471.7 685.5 L472.2 685.2 L472.7 685.0 L473.2 684.5 L473.7 684.8 L474.2 685.1 L474.7 684.6 L475.2 684.3 L475.7 685.4 L476.2 685.4 L476.7 684.8 L477.2 684.6 L477.7 685.1 L478.2 685.2 L478.7 685.3 L479.2 686.2 L479.7 685.4 L480.2 685.0 L480.7 685.6 L481.2 685.5 L481.7 686.0 L482.2 685.3 L482.7 686.6 L483.2 685.8 L483.7 685.5 L484.2 685.2 L484.7 684.5 L485.2 684.3 L485.7 684.4 L486.2 685.0 L486.7 685.0 L487.2 684.7 L487.7 685.1 L488.2 685.4 L488.7 685.6 L489.2 685.9 L489.7 686.2 L490.2 686.6 L490.7 686.1 L491.2 686.5 L491.7 686.2 L492.2 686.3 L492.7 685.4 L493.2 686.1 L493.7 687.0 L494.2 687.3 L494.7 687.1 L495.2 687.1 L495.7 687.3 L496.2 687.3 L496.7 687.2 L497.2 688.1 L497.7 688.0 L498.2 688.1 L498.7 687.8 L499.2 688.2 L499.7 688.2 L500.2 687.7 L500.7 689.0 L501.2 688.8 L501.7 688.4 L502.2 688.4 L502.7 687.6 L503.2 687.3 L503.7 687.4 L504.2 686.4 L504.7 686.8 L505.2 685.9 L505.7 687.0 L506.2 685.7 L506.7 685.9 L507.2 685.1 L507.7 685.0 L508.2 684.8 L508.7 684.6 L509.2 684.6 L509.7 684.8 L510.2 684.3 L510.7 683.9 L511.2 683.5 L511.7 683.7 L512.2 683.5 L512.7 682.8 L513.2 683.1 L513.7 683.3 L514.2 683.5 L514.7 683.6 L515.2 683.4 L515.7 683.6 L516.2 684.0 L516.7 683.2 L517.2 683.7 L517.7 683.8 L518.2 682.4 L518.7 682.8 L519.2 682.9 L519.7 681.8 L520.2 682.2 L520.7 680.9 L521.2 681.7 L521.7 681.8 L522.2 681.3 L522.7 681.3 L523.2 681.8 L523.7 681.4 L524.2 681.8 L524.7 680.9 L525.2 681.2 L525.7 681.1 L526.2 680.3 L526.7 680.5 L527.2 680.4 L527.7 679.9 L528.2 680.6 L528.7 680.4 L529.2 680.2 L529.7 680.7 L530.2 680.6 L530.7 680.2 L531.2 680.3 L531.7 679.6 L532.2 679.7 L532.7 678.9 L533.2 679.4 L533.7 679.2 L534.2 679.6 L534.7 679.7 L535.2 679.4 L535.7 679.2 L536.2 679.4 L536.7 679.7 L537.2 679.8 L537.7 678.9 L538.2 678.4 L538.7 677.9 L539.2 678.3 L539.7 678.4 L540.2 678.7 L540.7 678.9 L541.2 678.6 L541.7 678.6 L542.2 679.0 L542.7 678.0 L543.2 677.8 L543.7 678.3 L544.2 677.4 L544.7 677.6 L545.2 677.6 L545.7 676.9 L546.2 677.9 L546.7 676.9 L547.2 677.4 L547.7 677.3 L548.2 677.7 L548.7 677.1 L549.2 677.3 L549.7 677.0 L550.2 677.5 L550.7 677.1 L551.2 677.2 L551.7 677.4 L552.2 676.7 L552.7 676.7 L553.2 676.1 L553.7 675.6 L554.2 675.6 L554.7 675.0 L555.2 675.4 L555.7 675.4 L556.2 674.2 L556.7 674.8 L557.2 675.0 L557.7 675.1 L558.2 674.6 L558.7 673.8 L559.2 674.1 L559.7 675.4 L560.2 674.5 L560.7 674.0 L561.2 674.5 L561.7 674.6 L562.2 673.6 L562.7 673.2 L563.2 673.5 L563.7 674.1 L564.2 674.1 L564.7 673.8 L565.2 674.4 L565.7 673.8 L566.2 672.8 L566.7 673.2 L567.2 672.6 L567.7 672.2 L568.2 672.0 L568.7 672.2 L569.2 671.6 L569.7 671.1 L570.2 671.8 L570.7 672.9 L571.2 672.2 L571.7 672.4 L572.2 673.2 L572.7 673.5 L573.2 673.2 L573.7 672.2 L574.2 672.5 L574.7 671.7 L575.2 671.6 L575.7 671.6 L576.2 671.8 L576.7 672.2 L577.2 672.6 L577.7 672.3 L578.2 672.6 L578.7 672.6 L579.2 672.8 L579.7 672.0 L580.2 671.6 L580.7 672.5 L581.2 672.0 L581.7 672.6 L582.2 672.4 L582.7 672.3 L583.2 672.3 L583.7 672.7 L584.2 671.3 L584.7 672.0 L585.2 672.9 L585.7 672.4 L586.2 672.2 L586.7 672.7 L587.2 673.3 L587.7 672.4 L588.2 672.7 L588.7 672.5 L589.2 673.2 L589.7 672.9 L590.2 672.9 L590.7 672.8 L591.2 672.8 L591.7 672.9 L592.2 672.9 L592.7 673.3 L593.2 673.5 L593.7 672.7 L594.2 673.9 L594.7 673.2 L595.2 673.0 L595.7 674.1 L596.2 673.9 L596.7 675.1 L597.2 674.9 L597.7 674.9 L598.2 674.4 L598.7 673.4 L599.2 673.0 L599.7 673.5 L600.2 671.9 L600.7 672.4 L601.2 672.2 L601.7 671.5 L602.2 671.1 L602.7 671.7 L603.2 670.7 L603.7 670.9 L604.2 670.0 L604.7 669.3 L605.2 669.4 L605.7 668.9 L606.2 668.4 L606.7 668.1 L607.2 668.0 L607.7 668.1 L608.2 667.9 L608.7 668.1 L609.2 667.6 L609.7 667.4 L610.2 667.3 L610.7 666.5 L611.2 666.2 L611.7 665.5 L612.2 665.6 L612.7 665.5 L613.2 665.3 L613.7 664.8 L614.2 665.5 L614.7 664.4 L615.2 665.3 L615.7 664.8 L616.2 665.3 L616.7 665.3 L617.2 664.4 L617.7 665.2 L618.2 664.5 L618.7 664.9 L619.2 663.6 L619.7 664.9 L620.2 664.8 L620.7 665.7 L621.2 665.7 L621.7 667.1 L622.2 667.6 L622.7 667.7 L623.2 667.6 L623.7 667.2 L624.2 668.4 L624.7 668.7 L625.2 668.8 L625.7 669.2 L626.2 669.7 L626.7 669.9 L627.2 669.4 L627.7 669.2 L628.2 669.8 L628.7 669.6 L629.2 669.4 L629.7 669.2 L630.2 669.1 L630.7 669.0 L631.2 668.5 L631.7 668.5 L632.2 669.0 L632.7 668.3 L633.2 667.8 L633.7 667.2 L634.2 667.5 L634.7 667.4 L635.2 667.5 L635.7 667.0 L636.2 666.7 L636.7 666.6 L637.2 665.9 L637.7 666.5 L638.2 665.7 L638.7 666.3 L639.2 665.4 L639.7 665.7 L640.2 665.9 L640.7 665.6 L641.2 665.2 L641.7 665.1 L642.2 665.4 L642.7 665.2 L643.2 664.9 L643.7 664.6 L644.2 664.5 L644.7 664.1 L645.2 663.6 L645.7 663.0 L646.2 663.2 L646.7 663.7 L647.2 663.0 L647.7 662.9 L648.2 662.5 L648.7 661.5 L649.2 661.2 L649.7 660.8 L650.2 660.8 L650.7 660.7 L651.2 659.7 L651.7 660.1 L652.2 660.0 L652.7 659.7 L653.2 658.7 L653.7 658.5 L654.2 658.5 L654.7 658.2 L655.2 658.8 L655.7 659.0 L656.2 658.4 L656.7 659.5 L657.2 658.9 L657.7 658.9 L658.2 658.5 L658.7 658.1 L659.2 658.2 L659.7 657.7 L660.2 657.9 L660.7 657.1 L661.2 656.5 L661.7 655.7 L662.2 655.0 L662.7 654.7 L663.2 654.3 L663.7 654.6 L664.2 653.9 L664.7 654.8 L665.2 654.9 L665.7 655.6 L666.2 655.9 L666.7 656.4 L667.2 656.8 L667.7 657.1 L668.2 656.7 L668.7 657.3 L669.2 657.9 L669.7 656.8 L670.2 657.0 L670.7 656.7 L671.2 656.4 L671.7 657.2 L672.2 656.0 L672.7 655.4 L673.2 655.6 L673.7 655.4 L674.2 654.0 L674.7 653.7 L675.2 653.1 L675.7 652.6 L676.2 652.0 L676.7 651.2 L677.2 651.2 L677.7 650.7 L678.2 650.2 L678.7 650.1 L679.2 649.5 L679.7 648.7 L680.2 648.1 L680.7 648.0 L681.2 647.0 L681.7 646.2 L682.2 645.3 L682.7 645.1 L683.2 644.2 L683.7 643.9 L684.2 643.5 L684.7 642.2 L685.2 642.3 L685.7 641.7 L686.2 640.3 L686.7 639.5 L687.2 639.4 L687.7 638.3 L688.2 637.8 L688.7 637.7 L689.2 638.9 L689.7 639.0 L690.2 638.7 L690.7 638.8 L691.2 638.3 L691.7 639.3 L692.2 639.0 L692.7 639.0 L693.2 639.3 L693.7 640.0 L694.2 640.6 L694.7 639.9 L695.2 640.8 L695.7 641.5 L696.2 641.3 L696.7 642.3 L697.2 643.2 L697.7 643.9 L698.2 642.6 L698.7 641.9 L699.2 641.2 L699.7 640.7 L700.2 639.6 L700.7 638.1 L701.2 637.4 L701.7 635.8 L702.2 635.1 L702.7 633.9 L703.2 633.6 L703.7 632.5 L704.2 631.5 L704.7 630.6 L705.2 629.8 L705.7 629.2 L706.2 629.5 L706.7 630.5 L707.2 631.1 L707.7 631.4 L708.2 631.2 L708.7 631.7 L709.2 632.3 L709.7 632.2" fill="none" stroke="#a040a8" stroke-width="1.8" stroke-linejoin="round"/><path d="M337.5 534.5 H342.5 V712.5 H337.5" fill="none" stroke="#8f8f8f" stroke-width="1"/><line x1="337.5" y1="619.5" x2="342.5" y2="619.5" stroke="#8f8f8f" stroke-width="1"/><line x1="337.5" y1="666.5" x2="342.5" y2="666.5" stroke="#8f8f8f" stroke-width="1"/><line x1="337.5" y1="712.5" x2="342.5" y2="712.5" stroke="#8f8f8f" stroke-width="1"/><text x="335.5" y="624.1" text-anchor="end" class="ax" style="font-size:12.5px">24</text><text x="335.5" y="671.1" text-anchor="end" class="ax" style="font-size:12.5px">18</text><text x="335.5" y="717.1" text-anchor="end" class="ax" style="font-size:12.5px">12</text><text x="335.5" y="540.1" text-anchor="end" class="ax" style="font-size:12.5px">35</text><path d="M342.5 717.5 V712.5 H1221.5 V717.5" fill="none" stroke="#8f8f8f" stroke-width="1"/><line x1="600.5" y1="712.5" x2="600.5" y2="717.5" stroke="#8f8f8f" stroke-width="1"/><line x1="708.5" y1="712.5" x2="708.5" y2="717.5" stroke="#8f8f8f" stroke-width="1"/><line x1="961.5" y1="712.5" x2="961.5" y2="717.5" stroke="#8f8f8f" stroke-width="1"/><text x="342.5" y="728.1" text-anchor="middle" class="ax" style="font-size:13px">20:49</text><text x="600.5" y="728.1" text-anchor="middle" class="ax" style="font-size:13px">06:48</text><text x="708.5" y="728.1" text-anchor="middle" class="ax" style="font-size:13px">11:00</text><text x="961.5" y="728.1" text-anchor="middle" class="ax" style="font-size:13px">20:47</text><text x="1225.5" y="728.1" text-anchor="end" class="ax" style="font-size:13px">06:50</text></svg><!--/CHARTS-->
</body></html>
